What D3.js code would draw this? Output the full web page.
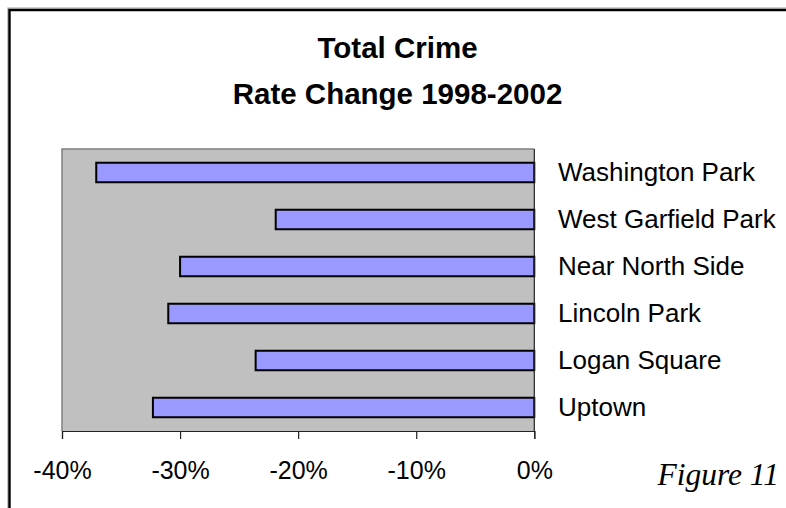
<!DOCTYPE html>
<html>
<head>
<meta charset="utf-8">
<script src="https://cdn.jsdelivr.net/npm/d3@7/dist/d3.min.js"></script>
<style>
  html, body { margin: 0; padding: 0; background: #fff; }
  svg { display: block; }
</style>
</head>
<body>
<svg id="chart" width="786" height="508"></svg>
<script>
// Neighborhoods, top to bottom, and their total crime rate change 1998-2002 (%)
const neighborhoods = ["Washington Park", "West Garfield Park", "Near North Side", "Lincoln Park", "Logan Square", "Uptown"];
const rateChange = [-37.1, -21.9, -30.0, -31.0, -23.6, -32.3];
const tickValues = [-40, -30, -20, -10, 0];
const titleLines = ["Total Crime", "Rate Change 1998-2002"];
const figureLabel = "Figure 11";

const svg = d3.select("#chart");
const W = 786, H = 508;
const plot = { left: 62, right: 534.3, top: 149, bottom: 431 };

// Outer frame: thin gray edge plus heavy black line on top and left
svg.append("path")
  .attr("d", `M8,${H} V8 H${W}`)
  .attr("fill", "none").attr("stroke", "#a0a0a0").attr("stroke-width", 1.2);
svg.append("path")
  .attr("d", `M9.5,${H} V10 H${W}`)
  .attr("fill", "none").attr("stroke", "#000").attr("stroke-width", 2.4);

// Title
svg.append("g").selectAll("text").data(titleLines).join("text")
  .attr("x", 397.5)
  .attr("y", (d, i) => 57.5 + i * 46)
  .attr("text-anchor", "middle")
  .attr("font-family", "Liberation Sans, Arial, sans-serif")
  .attr("font-weight", "bold")
  .attr("font-size", 29.5)
  .attr("fill", "#000")
  .text(d => d);

const x = d3.scaleLinear().domain([-40, 0]).range([plot.left, plot.right]);
const y = d3.scaleBand().domain(neighborhoods)
  .range([plot.top, plot.bottom]).paddingInner(0.585).paddingOuter(0.2925);

// Plot area background
svg.append("rect")
  .attr("x", plot.left).attr("y", plot.top)
  .attr("width", plot.right - plot.left).attr("height", plot.bottom - plot.top)
  .attr("fill", "#c0c0c0");
svg.append("path")
  .attr("d", `M${plot.left},${plot.bottom} V${plot.top} H${plot.right}`)
  .attr("fill", "none").attr("stroke", "#808080").attr("stroke-width", 1.5);

// Bars
svg.append("g").selectAll("rect")
  .data(neighborhoods.map((n, i) => ({ name: n, value: rateChange[i] })))
  .join("rect")
  .attr("x", d => x(d.value))
  .attr("y", d => y(d.name))
  .attr("width", d => x(0) - x(d.value))
  .attr("height", y.bandwidth())
  .attr("fill", "#9999ff")
  .attr("stroke", "#000")
  .attr("stroke-width", 2);

// Category labels on the right of the zero line
svg.append("g").selectAll("text").data(neighborhoods).join("text")
  .attr("x", 558)
  .attr("y", d => y(d) + y.bandwidth() / 2)
  .attr("dy", "0.32em")
  .attr("font-family", "Liberation Sans, Arial, sans-serif")
  .attr("font-size", 26)
  .attr("fill", "#000")
  .text(d => d);

// Zero line
svg.append("line")
  .attr("x1", x(0)).attr("x2", x(0))
  .attr("y1", plot.top).attr("y2", plot.bottom)
  .attr("stroke", "#222").attr("stroke-width", 1.2);

// Bottom axis
const xAxis = d3.axisBottom(x)
  .tickValues(tickValues)
  .tickFormat(d => d + "%")
  .tickSize(8)
  .tickPadding(22);
const axisG = svg.append("g")
  .attr("transform", `translate(0,${plot.bottom})`)
  .call(xAxis);
axisG.select(".domain").attr("stroke", "#222").attr("stroke-width", 1.2);
axisG.selectAll(".tick line").attr("stroke", "#222").attr("stroke-width", 1.2);
axisG.selectAll(".tick text")
  .attr("font-family", "Liberation Sans, Arial, sans-serif")
  .attr("font-size", 25)
  .attr("fill", "#000");

// Figure caption
svg.append("text")
  .attr("x", 779)
  .attr("y", 485)
  .attr("text-anchor", "end")
  .attr("font-family", "Liberation Serif, Times New Roman, serif")
  .attr("font-style", "italic")
  .attr("font-size", 31.5)
  .attr("fill", "#000")
  .text(figureLabel);
</script>
</body>
</html>
